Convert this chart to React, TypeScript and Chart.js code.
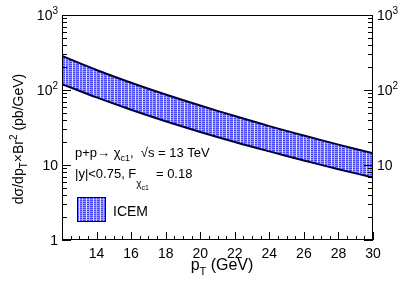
import React, { useEffect, useRef } from "react";
import { Chart, registerables } from "chart.js";

Chart.register(...registerables);

const ptValues = [12, 14, 16, 18, 20, 22, 24, 26, 28, 30];
const upperValues = [284, 185, 125, 87, 62, 44.9, 33, 24.7, 18.7, 14.3];
const lowerValues = [120, 79.6, 54.5, 38.3, 27.6, 20.3, 15.2, 11.5, 8.8, 6.8];
const xTickValues = [14, 16, 18, 20, 22, 24, 26, 28, 30];
const yDecades = [1, 10, 100, 1000];
const yDecadeLabels = [["1", ""], ["10", ""], ["10", "2"], ["10", "3"]];
const legendLabel = "ICEM";

const FONT = '"Liberation Sans", Arial, Helvetica, sans-serif';

function makePattern(ctx: CanvasRenderingContext2D) {
  const c = document.createElement("canvas");
  c.width = 7;
  c.height = 2;
  const g = c.getContext("2d")!;
  g.fillStyle = "#4646ff";
  g.fillRect(0, 0, 7, 1);
  g.fillStyle = "#8f8fff";
  g.fillRect(0, 1, 7, 1);
  g.fillStyle = "#dcdcff";
  g.fillRect(2, 0, 1, 2);
  g.fillStyle = "#b4b4ff";
  g.fillRect(5, 0, 1, 2);
  return ctx.createPattern(c, "repeat")!;
}

type Seg = { t: string; k: "n" | "sub" | "sup" };

function segWidth(ctx: CanvasRenderingContext2D, segs: Seg[], size: number) {
  let w = 0;
  for (const s of segs) {
    ctx.font = `${s.k === "n" ? size : Math.round(size * 0.7)}px ${FONT}`;
    w += ctx.measureText(s.t).width;
  }
  return w;
}

function drawSegs(ctx: CanvasRenderingContext2D, segs: Seg[], x: number, y: number, size: number) {
  let cx = x;
  ctx.textBaseline = "alphabetic";
  ctx.textAlign = "left";
  for (const s of segs) {
    const sz = s.k === "n" ? size : Math.round(size * 0.7);
    ctx.font = `${sz}px ${FONT}`;
    const dy = s.k === "sub" ? size * 0.3 : s.k === "sup" ? -size * 0.45 : 0;
    ctx.fillText(s.t, cx, y + dy);
    cx += ctx.measureText(s.t).width;
  }
  return cx;
}

const overlay = {
  id: "overlay",
  afterDraw(chart: any) {
    const ctx: CanvasRenderingContext2D = chart.ctx;
    const xs = chart.scales.x;
    const ys = chart.scales.y;
    const { left, right, top, bottom } = chart.chartArea;
    ctx.save();
    ctx.fillStyle = "#000";
    ctx.strokeStyle = "#000";
    ctx.lineWidth = 1;
    ctx.strokeRect(left + 0.5, top + 0.5, right - left - 1, bottom - top - 1);

    ctx.beginPath();
    for (let v = 12; v <= 30.001; v += 0.5) {
      const px = Math.round(xs.getPixelForValue(v)) + 0.5;
      const major = Math.abs(v - Math.round(v / 2) * 2) < 1e-6;
      const len = major ? 8 : 4;
      ctx.moveTo(px, bottom);
      ctx.lineTo(px, bottom - len);
    }
    for (let d = 0; d < 3; d++) {
      const base = Math.pow(10, d);
      for (let m = 1; m <= 9; m++) {
        const v = base * m;
        const py = Math.round(ys.getPixelForValue(v)) + 0.5;
        const len = m === 1 ? 9 : 5;
        ctx.moveTo(left, py);
        ctx.lineTo(left + len, py);
        ctx.moveTo(right, py);
        ctx.lineTo(right - len, py);
      }
    }
    ctx.stroke();

    ctx.font = `14px ${FONT}`;
    ctx.textAlign = "center";
    ctx.textBaseline = "alphabetic";
    for (const v of xTickValues) {
      ctx.fillText(String(v), xs.getPixelForValue(v), bottom + 18);
    }

    yDecades.forEach((v, i) => {
      const py = ys.getPixelForValue(v);
      const [b, e] = yDecadeLabels[i];
      const segs: Seg[] = [{ t: b, k: "n" }];
      if (e) segs.push({ t: e, k: "sup" });
      const w = segWidth(ctx, segs, 14);
      drawSegs(ctx, segs, left - 4 - w, py + 5, 14);
      if (v > 1) drawSegs(ctx, segs, right + 4, py + 5, 14);
    });

    const xt: Seg[] = [
      { t: "p", k: "n" },
      { t: "T", k: "sub" },
      { t: " (GeV)", k: "n" },
    ];
    const xw = segWidth(ctx, xt, 16);
    drawSegs(ctx, xt, 222 - xw / 2, 270, 16);

    const yt: Seg[] = [
      { t: "dσ/dp", k: "n" },
      { t: "T", k: "sub" },
      { t: "×Br", k: "n" },
      { t: "2", k: "sup" },
      { t: " (pb/GeV)", k: "n" },
    ];
    const yw = segWidth(ctx, yt, 14);
    ctx.save();
    ctx.translate(23, 139);
    ctx.rotate(-Math.PI / 2);
    drawSegs(ctx, yt, -yw / 2, 0, 14);
    ctx.restore();

    const a1: Seg[] = [
      { t: "p+p→ χ", k: "n" },
      { t: "c1", k: "sub" },
      { t: ",  √s = 13 TeV", k: "n" },
    ];
    drawSegs(ctx, a1, 75, 157, 13);
    const cx = drawSegs(ctx, [{ t: "|y|<0.75, F", k: "n" }], 75, 178, 13);
    ctx.font = `10px ${FONT}`;
    ctx.textAlign = "left";
    ctx.fillText("χ", cx, 187);
    const chiW = ctx.measureText("χ").width;
    ctx.font = `7px ${FONT}`;
    ctx.fillText("c1", cx + chiW, 190);
    drawSegs(ctx, [{ t: " = 0.18", k: "n" }], cx + 16, 178, 13);

    ctx.fillStyle = makePattern(ctx);
    ctx.fillRect(77, 197, 29, 25);
    ctx.strokeStyle = "#000040";
    ctx.lineWidth = 1;
    ctx.strokeRect(77.5, 197.5, 28, 24);
    ctx.fillStyle = "#000";
    ctx.font = `14px ${FONT}`;
    ctx.textBaseline = "middle";
    ctx.fillText(legendLabel, 113, 212);
    ctx.restore();
  },
};

export default function App() {
  const ref = useRef<HTMLCanvasElement>(null);
  useEffect(() => {
    document.body.style.margin = "0";
    const canvas = ref.current!;
    const ctx = canvas.getContext("2d")!;
    const pattern = makePattern(ctx);
    const chart = new Chart(canvas, {
      type: "line",
      data: {
        datasets: [
          {
            label: "lower",
            data: ptValues.map((x, i) => ({ x, y: lowerValues[i] })),
            borderColor: "#000033",
            borderWidth: 2,
            pointRadius: 0,
            fill: false,
            tension: 0.4,
          },
          {
            label: legendLabel,
            data: ptValues.map((x, i) => ({ x, y: upperValues[i] })),
            borderColor: "#000033",
            borderWidth: 2,
            pointRadius: 0,
            backgroundColor: pattern,
            fill: "-1",
            tension: 0.4,
          },
        ],
      },
      options: {
        animation: false,
        responsive: false,
        devicePixelRatio: 1,
        layout: { padding: { left: 62, right: 42, top: 15, bottom: 44 } },
        plugins: { legend: { display: false }, tooltip: { enabled: false } },
        scales: {
          x: { type: "linear", min: 12, max: 30, display: false },
          y: { type: "logarithmic", min: 1, max: 1000, display: false },
        },
      },
      plugins: [overlay],
    });
    return () => chart.destroy();
  }, []);
  return (
    <div style={{ position: "absolute", left: 0, top: 0, width: 415, height: 284, background: "#fff" }}>
      <canvas ref={ref} width={415} height={284} style={{ width: 415, height: 284 }} />
    </div>
  );
}
